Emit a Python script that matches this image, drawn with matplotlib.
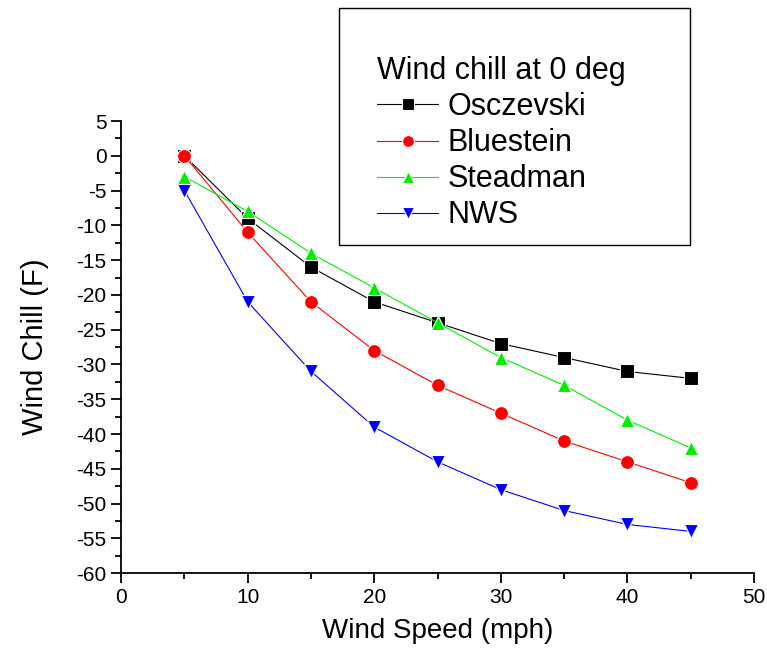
import numpy as np
import matplotlib
matplotlib.use('Agg')
import matplotlib.pyplot as plt
from matplotlib.patches import Rectangle
from matplotlib.ticker import MultipleLocator

plt.rcParams['font.family'] = ['Liberation Sans', 'DejaVu Sans']
plt.rcParams['axes.unicode_minus'] = False

# wind speed (mph)
speed = [5, 10, 15, 20, 25, 30, 35, 40, 45]
# wind chill at 0 deg F
osczevski = [0, -9, -16, -21, -24, -27, -29, -31, -32]
bluestein = [0, -11, -21, -28, -33, -37, -41, -44, -47]
steadman = [-3, -8, -14, -19, -24, -29, -33, -38, -42]
nws = [-5, -21, -31, -39, -44, -48, -51, -53, -54]

fig = plt.figure(figsize=(7.67, 6.58), dpi=100)
ax = fig.add_axes([0.158, 0.129, 0.825, 0.687])

kw = dict(lw=0.8, ms=10, mec='white', mew=0.8)
ax.plot(speed, osczevski, color='black', marker='s', mfc='black', label='Osczevski', **kw)
ax.plot(speed, bluestein, color='red', marker='o', mfc='red', label='Bluestein', **kw)
ax.plot(speed, steadman, color='#00ee00', marker='^', mfc='#00ee00', label='Steadman', **kw)
ax.plot(speed, nws, color='blue', marker='v', mfc='blue', label='NWS', **kw)

ax.set_xlim(0, 50)
ax.set_ylim(-60, 5)
ax.xaxis.set_major_locator(MultipleLocator(10))
ax.xaxis.set_minor_locator(MultipleLocator(5))
ax.yaxis.set_major_locator(MultipleLocator(5))
ax.yaxis.set_minor_locator(MultipleLocator(2.5))
ax.spines['top'].set_visible(False)
ax.spines['right'].set_visible(False)
for s in ['left', 'bottom']:
    ax.spines[s].set_linewidth(1.3)
ax.tick_params(which='major', direction='out', length=7, width=1.3, labelsize=15)
ax.tick_params(which='minor', direction='out', length=4, width=1.3)

ax.set_xlabel('Wind Speed (mph)', fontsize=20, labelpad=8)
ax.set_ylabel('Wind Chill (F)', fontsize=21, labelpad=20)

# legend box
fig.patches.append(Rectangle((339/767, 1-245/658), 351/767, 237/658,
                             transform=fig.transFigure, fill=False,
                             edgecolor='black', lw=1.0))
leg = ax.legend(loc='upper left', bbox_to_anchor=(377/767, 1-56/658),
                bbox_transform=fig.transFigure, frameon=False,
                title='Wind chill at 0 deg', title_fontsize=22, fontsize=22,
                alignment='left', handlelength=2.0, handletextpad=0.3,
                labelspacing=0.2, borderpad=0, borderaxespad=0, markerscale=0.85)

fig.savefig('out.png', dpi=100)
